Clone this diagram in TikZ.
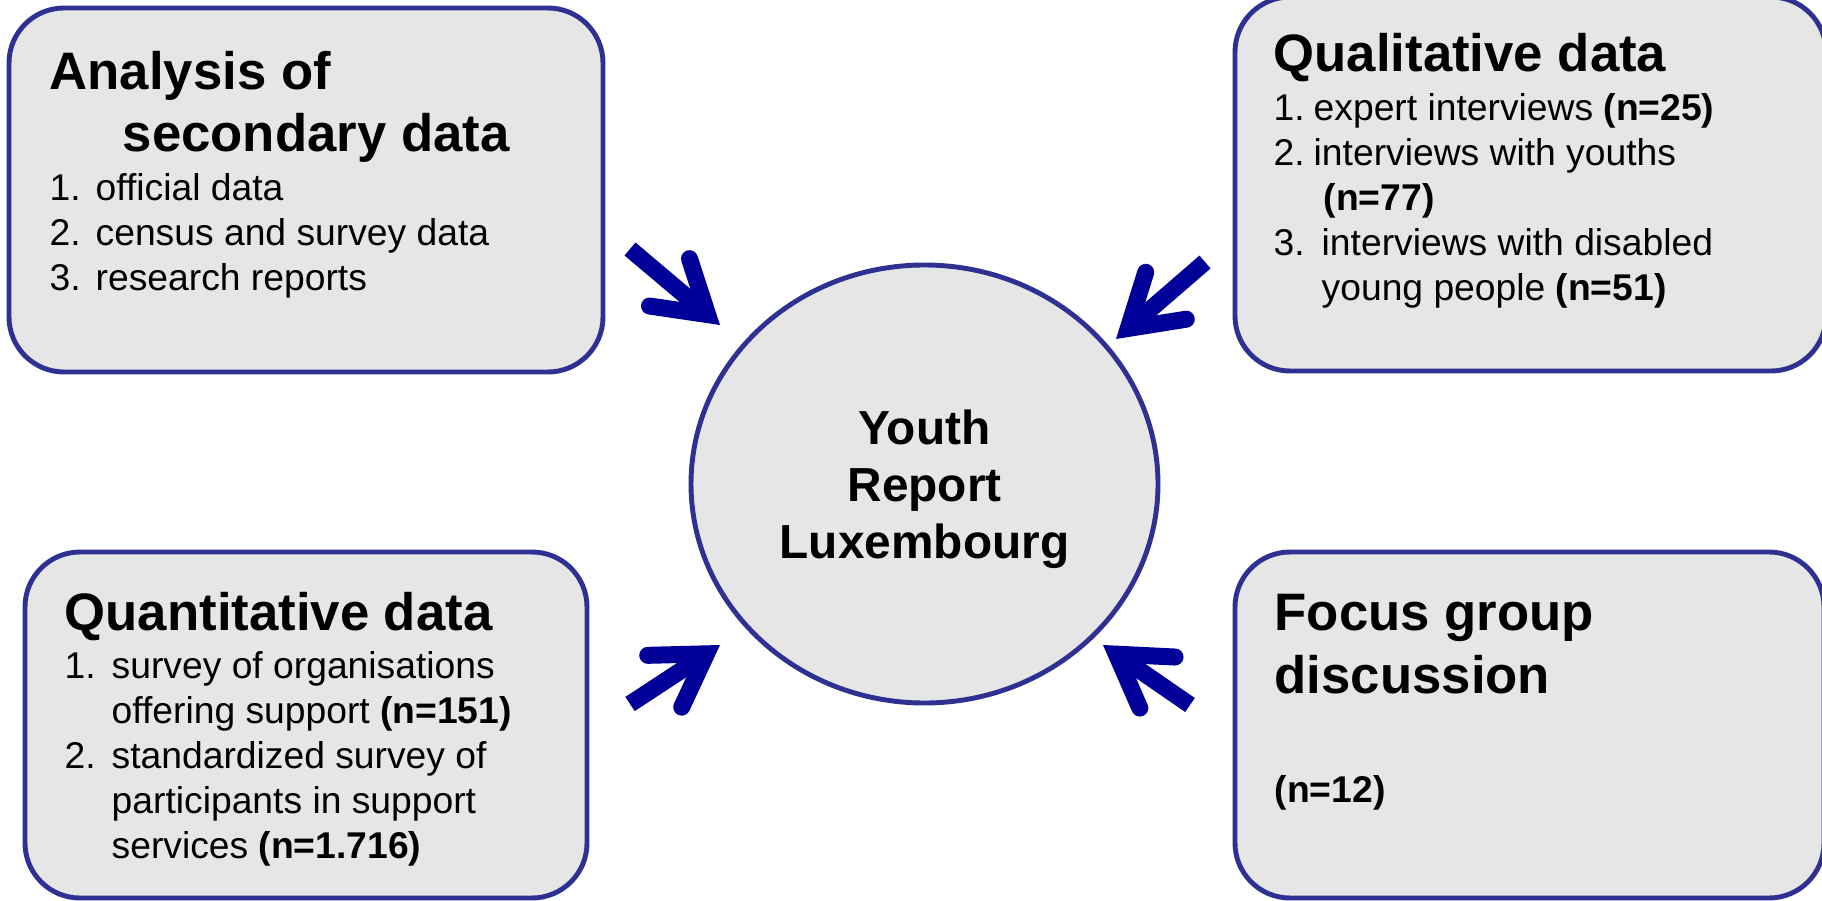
\documentclass[tikz,border=0pt]{standalone}
\usepackage{fontspec}
\setmainfont{Liberation Sans}
\usetikzlibrary{shapes, arrows.meta}
\definecolor{boxfill}{HTML}{E6E6E6}
\definecolor{boxline}{HTML}{2E3192}
\definecolor{arrowblue}{HTML}{000099}
\tikzstyle{source} = [rectangle, rounded corners=0.55cm, draw=boxline, line width=1.4pt, fill=boxfill]
\tikzstyle{report} = [ellipse, draw=boxline, line width=1.4pt, fill=boxfill, minimum width=4.67cm, minimum height=4.38cm, align=center, font=\fontsize{13.6}{16.2}\selectfont\bfseries]
\tikzstyle{itemlist} = [anchor=base west, font=\fontsize{10.6}{12.8}\selectfont]
\tikzstyle{arrow} = [draw=arrowblue, line width=0.17cm, -{Straight Barb[length=5mm, width=6.2mm, line cap=round, line join=miter]}]
\newcommand{\srctitle}[1]{\multicolumn{2}{@{}l@{}}{\fontsize{15}{16.5}\selectfont\bfseries #1}}

\begin{document}
\begin{tikzpicture}[inner sep=0pt]
        \useasboundingbox (0,0) rectangle (18.22,9);

        % Nodes
        \node (report) [report] at (9.245,4.16) {\rule{0pt}{12.7pt}Youth\\ Report\\ Luxembourg};
        \node (secondary) [source, minimum width=5.94cm, minimum height=3.64cm] at (3.06,7.10) {};
        \node (qualitative) [source, minimum width=5.91cm, minimum height=3.74cm] at (15.305,7.16) {};
        \node (quantitative) [source, minimum width=5.62cm, minimum height=3.46cm] at (3.06,1.75) {};
        \node (focus) [source, minimum width=5.89cm, minimum height=3.46cm] at (15.295,1.75) {};

        % Box texts
        \node (secondarytext) [itemlist] at (0.49,8.10) {
            \begin{tabular}[t]{@{}p{4.6mm}@{}l@{}}
                \srctitle{Analysis of} \\[2.85pt]
                \srctitle{\hspace*{7.3mm}secondary data} \\[1.1pt]
                1. & official data \\
                2. & census and survey data \\
                3. & research reports
            \end{tabular}
        };
        \node (qualitativetext) [itemlist] at (12.73,8.28) {
            \begin{tabular}[t]{@{}p{4.0mm}@{}l@{}}
                \srctitle{Qualitative data} \\[0.9pt]
                1. & expert interviews \textbf{(n=25)} \\
                2. & interviews with youths \\
                   & \hspace*{1.0mm}\textbf{(n=77)} \\
                3. & \hspace*{0.8mm}interviews with disabled \\
                   & \hspace*{0.8mm}young people \textbf{(n=51)}
            \end{tabular}
        };
        \node (quantitativetext) [itemlist] at (0.64,2.70) {
            \begin{tabular}[t]{@{}p{4.7mm}@{}l@{}}
                \srctitle{Quantitative data} \\[0.9pt]
                1. & survey of organisations \\
                   & offering support \textbf{(n=151)} \\
                2. & standardized survey of \\
                   & participants in support \\
                   & services \textbf{(n=1.716)}
            \end{tabular}
        };
        \node (focustext) [itemlist] at (12.74,2.70) {
            \begin{tabular}[t]{@{}l@{}l@{}}
                \srctitle{Focus group} \\[3.4pt]
                \srctitle{discussion} \\[18.2pt]
                \textbf{(n=12)} &
            \end{tabular}
        };

        % Arrow ends
        \coordinate (secondaryfrom) at (6.30,6.51);
        \coordinate (secondaryto) at (7.20,5.75);
        \coordinate (qualitativefrom) at (12.05,6.38);
        \coordinate (qualitativeto) at (11.16,5.61);
        \coordinate (quantitativefrom) at (6.30,1.96);
        \coordinate (quantitativeto) at (7.20,2.55);
        \coordinate (focusfrom) at (11.90,1.95);
        \coordinate (focusto) at (11.03,2.55);

        % Arrows
        \draw [arrow] (secondaryfrom) -- (secondaryto);
        \draw [arrow] (qualitativefrom) -- (qualitativeto);
        \draw [arrow] (quantitativefrom) -- (quantitativeto);
        \draw [arrow] (focusfrom) -- (focusto);

\end{tikzpicture}
\end{document}
